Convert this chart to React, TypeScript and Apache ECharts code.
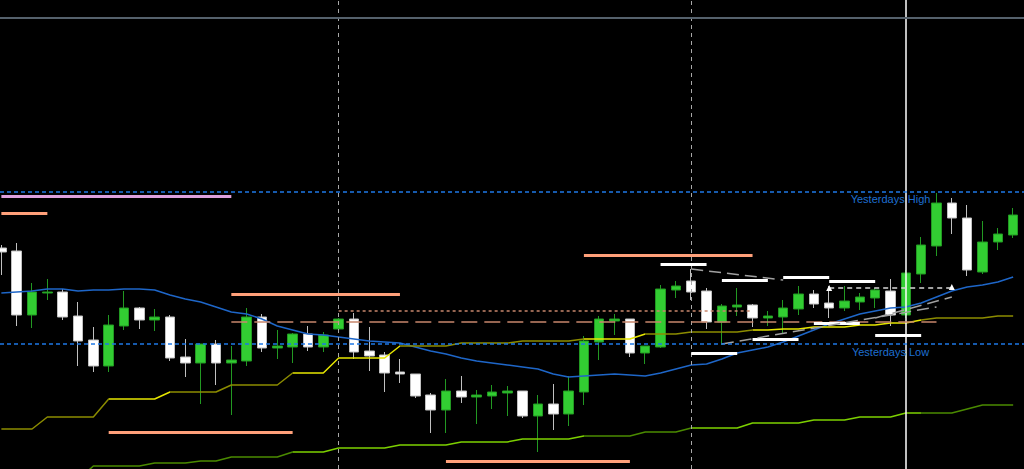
import React, { useEffect, useRef } from "react";
import * as echarts from "echarts";

// ---------- data ----------
const categories: string[] = [];
for (let k = 0; k < 67; k++) {
  const h = (k + 3) % 24;
  const d = 10 + Math.floor((k + 3) / 24);
  categories.push(`2017.08.${d} ${String(h).padStart(2, "0")}:00`);
}

// [open, close, low, high]
const candles: number[][] = [
  [1.18221, 1.18217, 1.18194, 1.18224],
  [1.18218, 1.18154, 1.18143, 1.18226],
  [1.18154, 1.18177, 1.18141, 1.18186],
  [1.18176, 1.18177, 1.18169, 1.1819],
  [1.18177, 1.18152, 1.18149, 1.1818],
  [1.18153, 1.18128, 1.18103, 1.18167],
  [1.18129, 1.18103, 1.18097, 1.18142],
  [1.18103, 1.18144, 1.18097, 1.18154],
  [1.18143, 1.18161, 1.18139, 1.18178],
  [1.18161, 1.18149, 1.1814, 1.18162],
  [1.18149, 1.18152, 1.18138, 1.1816],
  [1.18152, 1.18111, 1.18108, 1.18154],
  [1.18112, 1.18106, 1.18092, 1.1813],
  [1.18106, 1.18125, 1.18065, 1.18125],
  [1.18125, 1.18106, 1.18084, 1.18129],
  [1.18106, 1.18109, 1.18054, 1.18123],
  [1.18108, 1.18152, 1.18103, 1.18161],
  [1.18152, 1.18121, 1.18117, 1.18155],
  [1.18121, 1.18123, 1.1811, 1.18139],
  [1.18122, 1.18135, 1.18106, 1.18136],
  [1.18135, 1.18122, 1.18118, 1.18143],
  [1.18122, 1.18134, 1.18117, 1.18137],
  [1.1814, 1.1815, 1.18137, 1.18151],
  [1.1815, 1.18117, 1.1811, 1.18156],
  [1.18118, 1.18113, 1.18098, 1.18142],
  [1.18114, 1.18096, 1.18077, 1.18117],
  [1.18097, 1.18095, 1.18086, 1.1811],
  [1.18095, 1.18073, 1.18071, 1.18095],
  [1.18074, 1.18059, 1.18036, 1.18076],
  [1.18059, 1.18078, 1.18036, 1.1809],
  [1.18078, 1.18072, 1.18066, 1.18093],
  [1.18072, 1.18074, 1.18045, 1.18079],
  [1.18073, 1.18077, 1.1806, 1.18084],
  [1.18076, 1.18078, 1.18053, 1.18083],
  [1.18078, 1.18053, 1.18051, 1.18078],
  [1.18053, 1.18065, 1.18017, 1.18074],
  [1.18065, 1.18055, 1.18039, 1.18085],
  [1.18055, 1.18078, 1.18043, 1.18093],
  [1.18077, 1.18128, 1.18064, 1.18133],
  [1.18127, 1.1815, 1.18109, 1.18153],
  [1.18148, 1.1815, 1.18134, 1.18155],
  [1.1815, 1.18116, 1.18112, 1.1815],
  [1.18116, 1.18123, 1.18105, 1.18123],
  [1.18122, 1.1818, 1.18121, 1.18184],
  [1.18179, 1.18183, 1.18171, 1.18188],
  [1.18188, 1.18177, 1.18169, 1.182],
  [1.18178, 1.18147, 1.1814, 1.18181],
  [1.18147, 1.18163, 1.18124, 1.18165],
  [1.18162, 1.18164, 1.18153, 1.18181],
  [1.18164, 1.18151, 1.18142, 1.18165],
  [1.18151, 1.18153, 1.18143, 1.18158],
  [1.18152, 1.18161, 1.18136, 1.18169],
  [1.1816, 1.18175, 1.18154, 1.18183],
  [1.18175, 1.18165, 1.18161, 1.18179],
  [1.18166, 1.18161, 1.18151, 1.18183],
  [1.18161, 1.18168, 1.18158, 1.18183],
  [1.18167, 1.18172, 1.18159, 1.18176],
  [1.18171, 1.18179, 1.18161, 1.18181],
  [1.18178, 1.18154, 1.18143, 1.1819],
  [1.18154, 1.18196, 1.18151, 1.18199],
  [1.18195, 1.18224, 1.18186, 1.18232],
  [1.18223, 1.18266, 1.18213, 1.18276],
  [1.18266, 1.18251, 1.18235, 1.18271],
  [1.18251, 1.18199, 1.18193, 1.18264],
  [1.18197, 1.18227, 1.18195, 1.18248],
  [1.18227, 1.18235, 1.18219, 1.18241],
  [1.18234, 1.18254, 1.18231, 1.18261],
];

const maBlue: number[] = [
  1.18176, 1.18177, 1.18178, 1.1818, 1.1818, 1.18178, 1.18179, 1.18179, 1.1818, 1.1818,
  1.18179, 1.18174, 1.1817, 1.18167, 1.18162, 1.18157, 1.18155, 1.1815, 1.18143, 1.18139,
  1.18135, 1.18134, 1.18132, 1.1813, 1.18128, 1.18127, 1.18126, 1.18122, 1.18118, 1.18115,
  1.18111, 1.18108, 1.18106, 1.18104, 1.18102, 1.181, 1.18095, 1.18092, 1.18093, 1.18094,
  1.18095, 1.18094, 1.18093, 1.18096, 1.181, 1.18104, 1.18105, 1.1811, 1.18116, 1.18119,
  1.18122, 1.18127, 1.18133, 1.18139, 1.18145, 1.1815, 1.18155, 1.18158, 1.18161, 1.18162,
  1.18166, 1.18172, 1.18178, 1.18182, 1.18184, 1.18187, 1.18192,
];

const bandUpper: number[] = [
  1.1804, 1.1804, 1.1804, 1.18052, 1.18052, 1.18052, 1.18052, 1.1807, 1.1807, 1.1807,
  1.1807, 1.18077, 1.18077, 1.18077, 1.18077, 1.18084, 1.18084, 1.18084, 1.18084, 1.18096,
  1.18096, 1.18096, 1.18111, 1.18111, 1.18111, 1.18111, 1.18123, 1.18123, 1.18123, 1.18123,
  1.18126, 1.18126, 1.18126, 1.18126, 1.18128, 1.18128, 1.18128, 1.18128, 1.1813, 1.1813,
  1.1813, 1.1813, 1.18135, 1.18135, 1.18135, 1.18137, 1.18137, 1.18137, 1.18137, 1.18139,
  1.18139, 1.1814, 1.1814, 1.18142, 1.18142, 1.18142, 1.18144, 1.18144, 1.18146, 1.18146,
  1.18149, 1.18151, 1.18151, 1.18151, 1.18151, 1.18153, 1.18153,
];

const bandLower: number[] = [
  1.17989, 1.17989, 1.17989, 1.17989, 1.17989, 1.17989, 1.18003, 1.18003, 1.18003, 1.18003,
  1.18006, 1.18006, 1.18006, 1.18008, 1.18008, 1.18012, 1.18012, 1.18012, 1.18012, 1.18017,
  1.18017, 1.18017, 1.18021, 1.18021, 1.18021, 1.18021, 1.18024, 1.18024, 1.18024, 1.18024,
  1.18027, 1.18027, 1.18027, 1.18027, 1.1803, 1.1803, 1.1803, 1.1803, 1.18033, 1.18033,
  1.18033, 1.18033, 1.18037, 1.18037, 1.18037, 1.18041, 1.18041, 1.18041, 1.18041, 1.18046,
  1.18046, 1.18046, 1.18046, 1.18049, 1.18049, 1.18049, 1.18052, 1.18052, 1.18052, 1.18056,
  1.18056, 1.18056, 1.18056, 1.1806, 1.18064, 1.18064, 1.18064,
];

// full-width levels
const topPriceLine = 1.18451;
const yesterdaysHigh = 1.18277;
const yesterdaysLow = 1.18125;

// separators (candle index)
const separators: number[] = [22, 45];
const cursorIndex = 59;

// segments [fromIndex, toIndex, price]
const plumSegments: number[][] = [[0, 15, 1.18273]];
const salmonSegments: number[][] = [
  [0, 3, 1.18256],
  [15, 26, 1.18175],
  [7, 19, 1.18037],
  [29, 41, 1.18008],
  [38, 49, 1.18214],
];
const salmonDashed: number[][] = [[15, 61, 1.18147]];
const salmonDotted: number[][] = [[22, 49, 1.18158]];
const whiteSegments: number[][] = [
  [43, 46, 1.18205],
  [47, 50, 1.18189],
  [51, 54, 1.18192],
  [54, 57, 1.18188],
  [45, 48, 1.18116],
  [49, 52, 1.1813],
  [53, 56, 1.18146],
  [57, 60, 1.18134],
];
// sloped gray lines [fromIndex, fromPrice, toIndex, toPrice]
const grayLines: number[][] = [
  [45, 1.182, 50.5, 1.18189],
  [47, 1.18125, 61, 1.18162],
  [57, 1.18151, 62, 1.18172],
];
const whiteDashed: number[][] = [[54, 62, 1.18181]];
const arrowMarks: number[][] = [
  [54, 1.18181],
  [62, 1.18182],
];

const labelHigh = { text: "Yesterdays High", index: 58, price: 1.1827 };
const labelLow = { text: "Yesterdays Low", index: 58, price: 1.18117 };

const PRICE_MIN = 1.18;
const PRICE_MAX = 1.18469;

export default function App() {
  const ref = useRef<HTMLDivElement>(null);
  useEffect(() => {
    if (!ref.current) return;
    const chart = echarts.init(ref.current, undefined, { renderer: "svg" });

    const seg = (arr: number[][], style: any) =>
      arr.map((s) => [
        { coord: [s[0], s[2]], lineStyle: style },
        { coord: [s[1], s[2]] },
      ]);

    const salmon = "#ffa07a";
    const candleMarkLines: any[] = [
      ...separators.map((i) => ({
        xAxis: categories[i],
        lineStyle: { color: "#a8a8a8", width: 1, type: [4, 4] },
      })),
      { xAxis: categories[cursorIndex], lineStyle: { color: "#ffffff", width: 1.5, type: "solid" } },
      ...seg(plumSegments, { color: "#dda0dd", width: 3, type: "solid" }),
      ...seg(salmonSegments, { color: salmon, width: 3, type: "solid" }),
      ...seg(salmonDashed, { color: "#c8866c", width: 1.5, type: [16, 7] }),
      ...seg(salmonDotted, { color: "#c8866c", width: 1.5, type: [3, 3] }),
      ...seg(whiteSegments, { color: "#ffffff", width: 3, type: "solid" }),
      ...seg(whiteDashed, { color: "#d8d8d8", width: 1.5, type: [5, 4] }),
      ...grayLines.map((g) => [
        { coord: [g[0], g[1]], lineStyle: { color: "#a0a0a0", width: 1.5, type: [12, 6] } },
        { coord: [g[2], g[3]] },
      ]),
    ];

    const fullMarkLines: any[] = [
      { yAxis: topPriceLine, lineStyle: { color: "#55616c", width: 2, type: "solid" } },
      { yAxis: yesterdaysHigh, lineStyle: { color: "#1e78e6", width: 1.5, type: [4, 3] } },
      { yAxis: yesterdaysLow, lineStyle: { color: "#1e78e6", width: 1.5, type: [4, 3] } },
    ];

    const textLabel = (l: { text: string; index: number; price: number }) => ({
      coord: [l.index, l.price],
      symbol: "rect",
      symbolSize: 1,
      itemStyle: { color: "rgba(0,0,0,0)" },
      label: {
        show: true,
        position: "inside",
        formatter: l.text,
        color: "#1e6fd0",
        fontSize: 11,
        fontFamily: "Liberation Sans, Arial, sans-serif",
      },
    });

    chart.setOption({
      animation: false,
      backgroundColor: "#000000",
      grid: [
        { left: 1.37, right: 10.85, top: 0, bottom: 0, containLabel: false },
        { left: 0, right: 0, top: 0, bottom: 0, containLabel: false },
      ],
      xAxis: [
        { type: "category", data: categories, boundaryGap: false, show: false, gridIndex: 0 },
        { type: "value", min: 0, max: 1, show: false, gridIndex: 1 },
      ],
      yAxis: [
        { type: "value", min: PRICE_MIN, max: PRICE_MAX, show: false, splitLine: { show: false }, gridIndex: 0 },
        { type: "value", min: PRICE_MIN, max: PRICE_MAX, show: false, splitLine: { show: false }, gridIndex: 1 },
      ],
      visualMap: [
        {
          show: false,
          type: "piecewise",
          seriesIndex: 2,
          dimension: 0,
          pieces: [
            { lt: 6.5, color: "#8c8c00" },
            { gte: 6.5, lt: 10.5, color: "#e6e600" },
            { gte: 10.5, lt: 18.5, color: "#8c8c00" },
            { gte: 18.5, lt: 25.5, color: "#e6e600" },
            { gte: 25.5, lt: 37.5, color: "#8c8c00" },
            { gte: 37.5, lt: 41.5, color: "#e6e600" },
            { gte: 41.5, lt: 48.5, color: "#8c8c00" },
            { gte: 48.5, lt: 59.5, color: "#e6e600" },
            { gte: 59.5, color: "#8c8c00" },
          ],
        },
        {
          show: false,
          type: "piecewise",
          seriesIndex: 3,
          dimension: 0,
          pieces: [
            { lt: 18.5, color: "#4a8a00" },
            { gte: 18.5, lt: 37.5, color: "#7cd000" },
            { gte: 37.5, lt: 44.5, color: "#4a8a00" },
            { gte: 44.5, lt: 59.5, color: "#7cd000" },
            { gte: 59.5, color: "#4a8a00" },
          ],
        },
      ],
      series: [
        {
          type: "candlestick",
          data: candles,
          barWidth: 10,
          clip: false,
          itemStyle: {
            color: "#32cd32",
            color0: "#ffffff",
            borderColor: "#229922",
            borderColor0: "#c0c0c0",
            borderWidth: 1,
          },
          z: 2,
        },
        {
          type: "line",
          data: maBlue,
          symbol: "none",
          lineStyle: { color: "#1e66c8", width: 1.5 },
          z: 3,
        },
        {
          type: "line",
          data: bandUpper,
          symbol: "none",
          lineStyle: { width: 1.5 },
          z: 3,
        },
        {
          type: "line",
          data: bandLower,
          symbol: "none",
          lineStyle: { width: 1.5 },
          z: 3,
        },
        {
          type: "line",
          data: [],
          z: 5,
          markLine: {
            silent: true,
            precision: 6,
            symbol: ["none", "none"],
            label: { show: false },
            data: candleMarkLines,
          },
          markPoint: {
            silent: true,
            data: [
              textLabel(labelHigh),
              textLabel(labelLow),
              ...arrowMarks.map((a) => ({
                coord: a,
                symbol: "triangle",
                symbolSize: 6,
                itemStyle: { color: "#ffffff" },
                label: { show: false },
              })),
            ],
          },
        },
        {
          type: "line",
          xAxisIndex: 1,
          yAxisIndex: 1,
          data: [],
          z: 4,
          markLine: {
            silent: true,
            precision: 6,
            symbol: ["none", "none"],
            label: { show: false },
            data: fullMarkLines,
          },
        },
      ],
    });
    return () => chart.dispose();
  }, []);
  return (
    <div
      ref={ref}
      style={{ position: "fixed", left: 0, top: 0, width: 1024, height: 469, background: "#000" }}
    />
  );
}
